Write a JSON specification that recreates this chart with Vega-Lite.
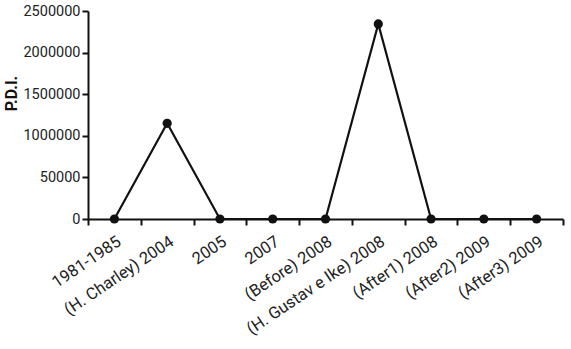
{
  "$schema": "https://vega.github.io/schema/vega-lite/v6.json",
  "autosize": "none",
  "width": 475,
  "height": 208,
  "padding": {"left": 88, "top": 11, "right": 8, "bottom": 130},
  "config": {
    "view": {"stroke": null},
    "font": "Roboto",
    "axis": {
      "grid": false,
      "domainColor": "#111",
      "domainWidth": 2,
      "tickColor": "#111",
      "tickWidth": 2,
      "tickSize": 6,
      "labelColor": "#222",
      "labelFont": "Roboto",
      "titleFont": "Roboto",
      "titleColor": "#111"
    }
  },
  "data": {
    "values": [
      {"period": "1981-1985", "pdi": 0},
      {"period": "(H. Charley) 2004", "pdi": 1150000},
      {"period": "2005", "pdi": 0},
      {"period": "2007", "pdi": 0},
      {"period": "(Before) 2008", "pdi": 0},
      {"period": "(H. Gustav e Ike) 2008", "pdi": 2345000},
      {"period": "(After1) 2008", "pdi": 0},
      {"period": "(After2) 2009", "pdi": 0},
      {"period": "(After3) 2009", "pdi": 0}
    ]
  },
  "encoding": {
    "x": {
      "field": "period",
      "type": "nominal",
      "sort": null,
      "scale": {"type": "band", "paddingInner": 0, "paddingOuter": 0},
      "axis": {"title": null, "labelAngle": -34, "labelFontSize": 16.5, "tickBand": "extent", "labelPadding": 8, "labelAlign": "right", "labelBaseline": "top"}
    },
    "y": {
      "field": "pdi",
      "type": "quantitative",
      "scale": {"domain": [0, 2500000], "nice": false},
      "axis": {
        "title": "P.D.I.",
        "titleFontSize": 16,
        "titleFontWeight": "bold",
        "titleX": -69,
        "titleY": 82,
        "titleAlign": "center",
        "labelFontSize": 14.5,
        "values": [0, 500000, 1000000, 1500000, 2000000, 2500000],
        "labelExpr": "datum.value == 500000 ? '50000' : format(datum.value, 'd')",
        "labelPadding": 2
      }
    }
  },
  "layer": [
    {"mark": {"type": "line", "color": "#111", "strokeWidth": 2.2}},
    {"mark": {"type": "point", "filled": true, "color": "#111", "opacity": 1, "size": 85}}
  ]
}
